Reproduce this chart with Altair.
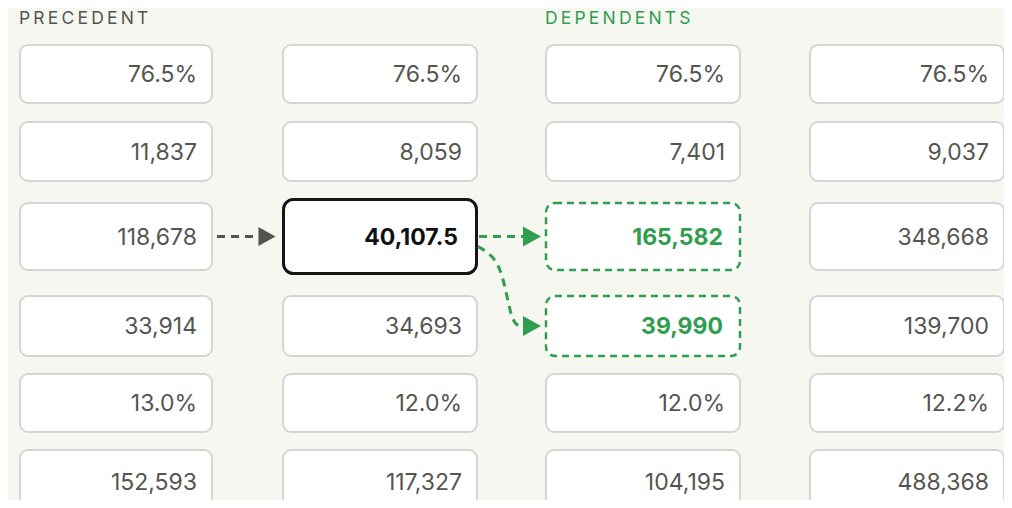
import altair as alt
import pandas as pd

# ---------------- data ----------------
col1 = ["76.5%", "11,837", "118,678", "33,914", "13.0%", "152,593"]
col2 = ["76.5%", "8,059", "40,107.5", "34,693", "12.0%", "117,327"]
col3 = ["76.5%", "7,401", "165,582", "39,990", "12.0%", "104,195"]
col4 = ["76.5%", "9,037", "348,668", "139,700", "12.2%", "488,368"]
selected = (1, 2)                 # (column, row) of the selected cell
dependents = [(2, 2), (2, 3)]     # cells that depend on it
precedents = [(0, 2)]             # cells it depends on
headers = ["PRECEDENT", "DEPENDENTS"]
header_cols = [0, 2]

# ---------------- layout (page pixels) ----------------
col_left = [19, 282, 545, 809]
col_right = [213, 478, 741, 1005]
row_top = [44, 121, 202, 295, 373, 449]
row_bottom = [104, 182, 271, 357, 433, 514]

GREY = "#555550"
GREEN = "#2f9e4f"
BORDER = "#d5d5d1"
BG = "#f7f7f2"
FONT = "Inter"
FS = 23

text_pad = {"normal": 16, "selected": 20, "dependent": 18}

rows = []
for c, vals in enumerate([col1, col2, col3, col4]):
    for r, v in enumerate(vals):
        role = "normal"
        if (c, r) == selected:
            role = "selected"
        elif (c, r) in dependents:
            role = "dependent"
        rows.append(dict(col=c, row=r, label=v, role=role,
                         x1=col_left[c] + 1, x2=col_right[c] - 1,
                         y1=row_top[r] + 1, y2=row_bottom[r] - 1,
                         xt=col_right[c] - text_pad[role],
                         yc=(row_top[r] + row_bottom[r]) / 2 + 1))
cells = pd.DataFrame(rows)
# selected cell box is drawn slightly taller, with a heavy outline
sel_mask = cells.role == "selected"
cells.loc[sel_mask, "y1"] = cells.loc[sel_mask, "y1"] - 3.5
cells.loc[sel_mask, "y2"] = cells.loc[sel_mask, "y2"] + 3.5
cells.loc[sel_mask, "x1"] = cells.loc[sel_mask, "x1"] + 0.5
cells.loc[sel_mask, "x2"] = cells.loc[sel_mask, "x2"] - 0.5

XS = alt.Scale(domain=[8, 1004], nice=False, zero=False)
YS = alt.Scale(domain=[8, 500], reverse=True, nice=False, zero=False)


def X(f):
    return alt.X(f, type="quantitative", scale=XS, axis=None)


def Y(f):
    return alt.Y(f, type="quantitative", scale=YS, axis=None)


base = alt.Chart(cells)

normal_rect = base.transform_filter(alt.datum.role == "normal").mark_rect(
    fill="white", stroke=BORDER, strokeWidth=2, cornerRadius=8, clip=True
).encode(x=X("x1"), x2="x2", y=Y("y1"), y2="y2")

sel_rect = base.transform_filter(alt.datum.role == "selected").mark_rect(
    fill="white", stroke="#151515", strokeWidth=3, cornerRadius=10
).encode(x=X("x1"), x2="x2", y=Y("y1"), y2="y2")

dep_rect = base.transform_filter(alt.datum.role == "dependent").mark_rect(
    fill="white", stroke=GREEN, strokeWidth=2.5, strokeDash=[7, 5], cornerRadius=9
).encode(x=X("x1"), x2="x2", y=Y("y1"), y2="y2")

normal_text = base.transform_filter(alt.datum.role == "normal").mark_text(
    align="right", baseline="middle", font=FONT, fontSize=FS, color=GREY
).encode(x=X("xt"), y=Y("yc"), text="label:N")

sel_text = base.transform_filter(alt.datum.role == "selected").mark_text(
    align="right", baseline="middle", font=FONT, fontSize=FS, fontWeight=700, color="#111111"
).encode(x=X("xt"), y=Y("yc"), text="label:N")

dep_text = base.transform_filter(alt.datum.role == "dependent").mark_text(
    align="right", baseline="middle", font=FONT, fontSize=FS, fontWeight=700, color=GREEN
).encode(x=X("xt"), y=Y("yc"), text="label:N")

# ---------------- connectors ----------------
pc, pr = precedents[0]
sc, sr = selected
yc_sel = (row_top[sr] + row_bottom[sr]) / 2
rules = pd.DataFrame([
    dict(x=col_right[pc] + 4, x2=col_left[sc] - 22, y=(row_top[pr] + row_bottom[pr]) / 2, kind="prec"),
    dict(x=col_right[sc] + 1, x2=col_left[dependents[0][0]] - 20,
         y=(row_top[dependents[0][1]] + row_bottom[dependents[0][1]]) / 2, kind="dep"),
])
heads = pd.DataFrame([
    dict(x=col_left[sc] - 15, y=rules.y[0], kind="prec"),
    dict(x=col_left[dependents[0][0]] - 13, y=rules.y[1], kind="dep"),
    dict(x=col_left[dependents[1][0]] - 13,
         y=(row_top[dependents[1][1]] + row_bottom[dependents[1][1]]) / 2, kind="dep"),
])
d2c, d2r = dependents[1]
y_end = (row_top[d2r] + row_bottom[d2r]) / 2
curve = pd.DataFrame(dict(
    x=[col_right[sc], col_right[sc] + 24, col_right[sc] + 33, col_left[d2c] - 22],
    y=[yc_sel + 10, yc_sel + 24, y_end, y_end],
    o=[0, 1, 2, 3],
))

prec_rule = alt.Chart(rules[rules.kind == "prec"]).mark_rule(
    color=GREY, strokeWidth=3, strokeDash=[8, 6]
).encode(x=X("x"), x2="x2", y=Y("y"))
dep_rule = alt.Chart(rules[rules.kind == "dep"]).mark_rule(
    color=GREEN, strokeWidth=3, strokeDash=[8, 6]
).encode(x=X("x"), x2="x2", y=Y("y"))
dep_curve = alt.Chart(curve).mark_line(
    color=GREEN, strokeWidth=3, strokeDash=[8, 6], interpolate="basis"
).encode(x=X("x"), y=Y("y"), order="o:Q")

ARROW = "M-0.9,-1L0.9,0L-0.9,1Z"
prec_head = alt.Chart(heads[heads.kind == "prec"]).mark_point(
    shape=ARROW, size=361, filled=True, opacity=1, color=GREY, strokeWidth=0
).encode(x=X("x"), y=Y("y"))
dep_head = alt.Chart(heads[heads.kind == "dep"]).mark_point(
    shape=ARROW, size=400, filled=True, opacity=1, color=GREEN, strokeWidth=0
).encode(x=X("x"), y=Y("y"))

# ---------------- headers ----------------
hdr = pd.DataFrame(dict(
    label=["\u2009".join(h) for h in headers],
    x=[col_left[c] for c in header_cols],
    y=[row_top[0] - 20] * len(headers),
    kind=["prec", "dep"],
))
hdr_text = alt.Chart(hdr).mark_text(
    align="left", baseline="alphabetic", font=FONT, fontSize=17.5
).encode(
    x=X("x"), y=Y("y"), text="label:N",
    color=alt.Color("kind:N", scale=alt.Scale(domain=["prec", "dep"], range=[GREY, GREEN]), legend=None),
)

chart = alt.layer(
    normal_rect, dep_rect, sel_rect,
    prec_rule, dep_rule, dep_curve, prec_head, dep_head,
    normal_text, sel_text, dep_text, hdr_text,
).properties(
    width=996, height=492, padding=0, autosize="none", background=BG
).configure_view(stroke=None)

chart.save("out.html", embed_options={"renderer": "svg", "actions": False})
